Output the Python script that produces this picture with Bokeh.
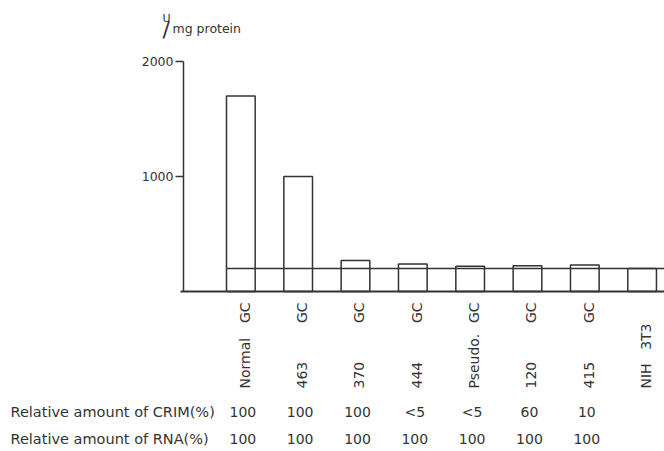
import numpy as np
from bokeh.plotting import figure
from bokeh.models import ColumnDataSource, Range1d
from bokeh.core.properties import value
from bokeh.embed import file_html
from bokeh.resources import INLINE

# ---------------- data ----------------
categories = ["Normal GC", "GC 463", "GC 370", "GC 444", "Pseudo. GC", "GC 120", "GC 415", "NIH 3T3"]
name_labels = ["Normal", "463", "370", "444", "Pseudo.", "120", "415", "NIH"]
suffix_labels = ["GC", "GC", "GC", "GC", "GC", "GC", "GC", "3T3"]
activity = [1700, 1000, 270, 240, 220, 225, 230, 200]      # U/mg protein
background_level = 200                                      # NIH 3T3 background line
crim_pct = ["100", "100", "100", "<5", "<5", "60", "10", ""]
rna_pct = ["100", "100", "100", "100", "100", "100", "100", ""]
row_titles = ["Relative amount of CRIM(%)", "Relative amount of RNA(%)"]
y_ticks = [1000, 2000]
y_unit_top = "U"
y_unit_bottom = "mg protein"

# ---------------- layout ----------------
W, H = 664, 451
AXIS_X_PX, BASE_Y_PX = 183, 291          # pixel position of the value axes
PX_PER_X = 57.33                         # pixels per category step
PX_PER_Y = 0.115                         # pixels per U/mg

def dx(px):
    return (px - AXIS_X_PX) / PX_PER_X

def dy(py):
    return (BASE_Y_PX - py) / PX_PER_Y

INK = "#333333"
FONT = "DejaVu Sans"
F = value(FONT)

xpos = np.arange(1, len(categories) + 1)

p = figure(width=W, height=H, output_backend="svg", toolbar_location=None,
           x_range=Range1d(dx(0), dx(W)), y_range=Range1d(dy(H), dy(0)),
           x_axis_location=None, y_axis_location=None,
           min_border=0, min_border_left=0, min_border_right=0,
           min_border_top=0, min_border_bottom=0)
p.outline_line_color = None
p.grid.visible = False
p.background_fill_color = "white"
p.border_fill_color = "white"

# ---- y axis (value scale) ----
p.segment(x0=[0], x1=[0], y0=[0], y1=[max(y_ticks)], line_color=INK, line_width=1.5)
p.segment(x0=[dx(175)] * len(y_ticks), x1=[0] * len(y_ticks), y0=y_ticks, y1=y_ticks,
          line_color=INK, line_width=1.3)
p.text(x=[dx(173)] * len(y_ticks), y=y_ticks, text=[str(t) for t in y_ticks],
       text_align="right", text_baseline="middle", text_font=F,
       text_font_size=value("12.5px"), text_color=INK)

# ---- x baseline ----
p.segment(x0=[dx(180)], x1=[dx(W)], y0=[0], y1=[0], line_color=INK, line_width=2)

# ---- bars (hollow) ----
src = ColumnDataSource(dict(x=xpos, top=activity, cat=categories))
p.vbar(x="x", top="top", bottom=0, width=0.5, source=src,
       fill_color=None, line_color=INK, line_width=1.5)

# ---- background line ----
p.line(x=[xpos[0] - 0.25, dx(W)], y=[background_level, background_level],
       line_color=INK, line_width=1.5)

# ---- rotated category labels ----
p.text(x=xpos, y=[dy(388)] * len(xpos), text=name_labels, angle=np.pi / 2,
       text_align="left", text_baseline="middle", x_offset=4,
       text_font=F, text_font_size=value("14px"), text_color=INK)
suffix_top = [dy(323) if s == "3T3" else dy(302) for s in suffix_labels]
p.text(x=xpos, y=suffix_top, text=suffix_labels, angle=np.pi / 2,
       text_align="right", text_baseline="middle", x_offset=4,
       text_font=F, text_font_size=value("14px"), text_color=INK)

# ---- table rows ----
for title, vals, ypx in zip(row_titles, [crim_pct, rna_pct], [411, 438]):
    p.text(x=[dx(10)], y=[dy(ypx)], text=[title], text_align="left",
           text_baseline="alphabetic", text_font=F,
           text_font_size=value("14.5px"), text_color=INK)
    p.text(x=xpos, y=[dy(ypx)] * len(xpos), text=vals, x_offset=2,
           text_align="center", text_baseline="alphabetic",
           text_font=F, text_font_size=value("14px"), text_color=INK)

# ---- unit label  U / mg protein ----
p.text(x=[dx(162)], y=[dy(18)], text=[y_unit_top], text_align="left",
       text_baseline="alphabetic", text_font=F,
       text_font_size=value("11px"), text_color=INK)
p.text(x=[dx(162)], y=[dy(29)], text=["/"], text_align="left",
       text_baseline="alphabetic", text_font=F,
       text_font_size=value("22px"), text_color=INK)
p.text(x=[dx(172)], y=[dy(28)], text=[y_unit_bottom], text_align="left",
       text_baseline="alphabetic", text_font=F,
       text_font_size=value("12.5px"), text_color=INK)

open("out.html", "w").write(file_html(p, INLINE))
